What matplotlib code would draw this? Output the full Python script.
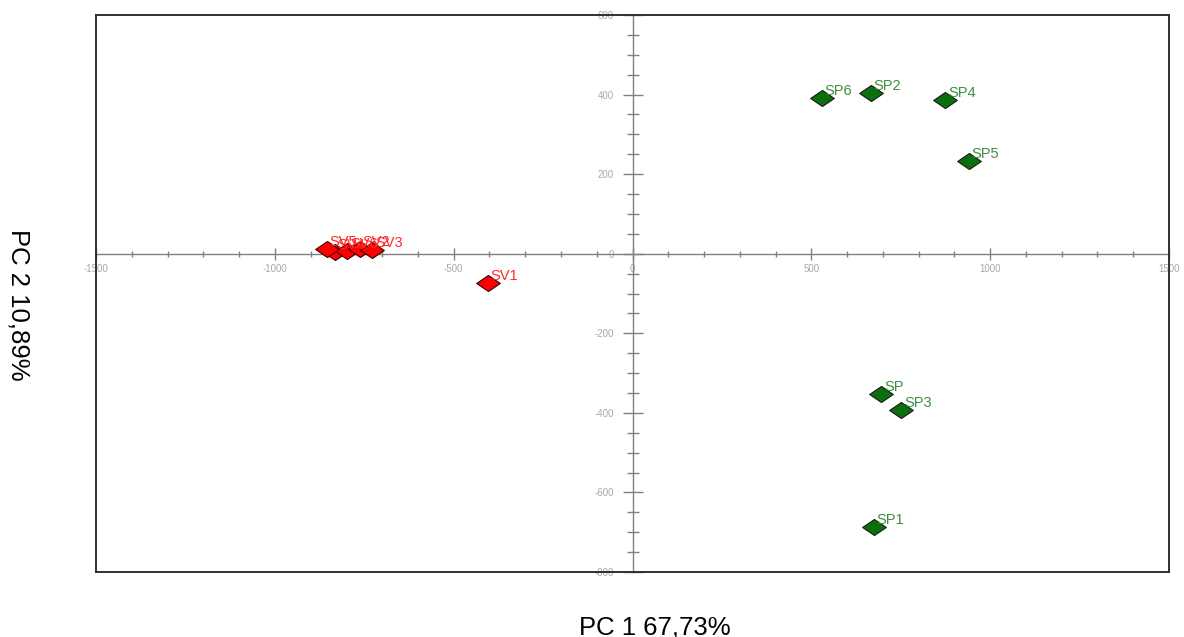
import numpy as np
import matplotlib.pyplot as plt
from matplotlib.path import Path
from matplotlib.ticker import MultipleLocator

plt.rcParams['font.family'] = ['Liberation Sans', 'DejaVu Sans']
plt.rcParams['axes.unicode_minus'] = False

# --- scores ---
sp_names = ['SP6', 'SP2', 'SP4', 'SP5', 'SP', 'SP3', 'SP1']
sp_x = [530, 667, 874, 941, 695, 751, 675]
sp_y = [392, 405, 387, 233, -352, -392, -686]

sv_names = ['SV4', 'SV6', 'SV5', 'SV2', 'SV3', 'SV1']
sv_x = [-832, -798, -854, -762, -728, -404]
sv_y = [5, 8, 13, 13, 10, -73]

x_label = "PC 1 67,73%"
y_label = "PC 2 10,89%"

# flat diamond marker
diamond = Path([(-1, 0), (0, 0.68), (1, 0), (0, -0.68), (-1, 0)],
               [Path.MOVETO, Path.LINETO, Path.LINETO, Path.LINETO, Path.CLOSEPOLY])

fig = plt.figure(figsize=(11.84, 6.37), dpi=100)
pos = [96/1184, 1 - 572/637, (1169 - 96)/1184, (572 - 15)/637]
ax = fig.add_axes(pos)

ax.set_xlim(-1500, 1500)
ax.set_ylim(-800, 600)

# axes crossing at zero
for s in ['left', 'bottom']:
    ax.spines[s].set_position('zero')
    ax.spines[s].set_color('#808080')
    ax.spines[s].set_linewidth(1)
for s in ['top', 'right']:
    ax.spines[s].set_visible(False)

ax.xaxis.set_major_locator(MultipleLocator(500))
ax.xaxis.set_minor_locator(MultipleLocator(100))
ax.yaxis.set_major_locator(MultipleLocator(200))
ax.yaxis.set_minor_locator(MultipleLocator(50))

ax.tick_params(axis='x', which='major', direction='inout', length=9, width=1,
               color='#808080', pad=3, labelsize=7, labelcolor='#a8a8a8')
ax.tick_params(axis='x', which='minor', direction='inout', length=5, width=1,
               color='#808080')
ax.tick_params(axis='y', which='major', direction='inout', length=15, width=1,
               color='#808080', pad=6, labelsize=7, labelcolor='#a8a8a8')
ax.tick_params(axis='y', which='minor', direction='inout', length=8, width=1,
               color='#808080')

ax.scatter(sp_x, sp_y, marker=diamond, s=17**2, color='#0b700b',
           edgecolor='#1a1a1a', linewidth=0.8, zorder=4)
ax.scatter(sv_x, sv_y, marker=diamond, s=17**2, color='#ff0000',
           edgecolor='#3a0000', linewidth=0.8, zorder=4)

for n, x, y in zip(sp_names, sp_x, sp_y):
    ax.annotate(n, (x, y), xytext=(2, 0), textcoords='offset points',
                fontsize=10.5, color='#3f8f3f', ha='left', va='bottom', zorder=5)
for n, x, y in zip(sv_names, sv_x, sv_y):
    ax.annotate(n, (x, y), xytext=(2, 0), textcoords='offset points',
                fontsize=10.5, color='#ff2a2a', ha='left', va='bottom', zorder=5)

# outer frame
frame = fig.add_axes(pos, facecolor='none')
frame.set_xticks([])
frame.set_yticks([])
for s in frame.spines.values():
    s.set_color('#303030')
    s.set_linewidth(1.4)

fig.text(655/1184, 1 - 627/637, x_label, ha='center', va='center', fontsize=18.5)
fig.text(18/1184, 1 - 305/637, y_label, ha='center', va='center', fontsize=18.5,
         rotation=-90)

fig.savefig('out.png', dpi=100)
